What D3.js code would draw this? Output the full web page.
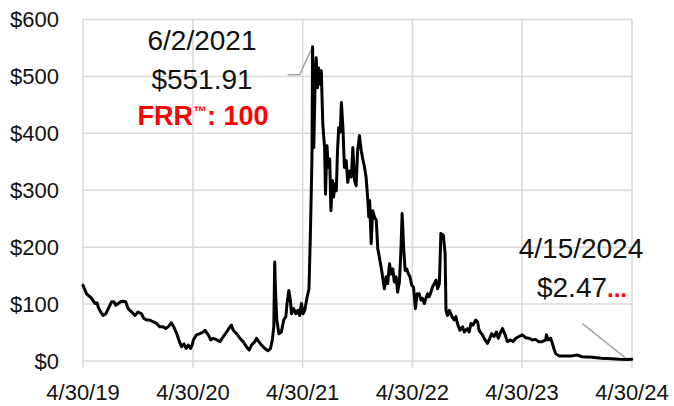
<!DOCTYPE html>
<html><head><meta charset="utf-8">
<script src="https://cdn.jsdelivr.net/npm/d3@7"></script>
<style>
html,body{margin:0;padding:0;background:#fff;}
svg{display:block;font-family:"Liberation Sans",Arial,sans-serif;}
</style></head>
<body><svg id="chart" width="674" height="406"></svg>
<script>
const dates = [
"2019-04-30","2019-05-12","2019-05-29","2019-06-09","2019-06-16","2019-06-20","2019-06-28","2019-07-06","2019-07-15","2019-07-23",
"2019-08-03","2019-08-11","2019-08-17","2019-08-25","2019-09-02","2019-09-11","2019-09-19","2019-09-27","2019-10-09","2019-10-20",
"2019-10-30","2019-11-11","2019-11-18","2019-11-27","2019-12-08","2019-12-19","2019-12-31","2020-01-10","2020-01-21","2020-01-30",
"2020-02-07","2020-02-18","2020-02-26","2020-03-07","2020-03-16","2020-03-23","2020-03-31","2020-04-07","2020-04-14","2020-04-22",
"2020-04-29","2020-05-01","2020-05-12","2020-05-23","2020-06-03","2020-06-09","2020-06-20","2020-06-28","2020-07-06","2020-07-18",
"2020-07-29","2020-08-09","2020-08-20","2020-08-31","2020-09-05","2020-09-11","2020-09-22","2020-10-03","2020-10-14","2020-10-25",
"2020-11-03","2020-11-11","2020-11-22","2020-11-27","2020-12-05","2020-12-14","2020-12-25","2021-01-05","2021-01-13","2021-01-19",
"2021-01-24","2021-01-27","2021-01-30","2021-02-03","2021-02-10","2021-02-18","2021-02-26","2021-03-05","2021-03-09","2021-03-15",
"2021-03-20","2021-03-24","2021-03-31","2021-04-07","2021-04-14","2021-04-20","2021-04-26","2021-05-01","2021-05-07","2021-05-14",
"2021-05-21","2021-05-26","2021-05-31","2021-06-02","2021-06-06","2021-06-11","2021-06-14","2021-06-18","2021-06-22","2021-06-28",
"2021-07-01","2021-07-06","2021-07-12","2021-07-15","2021-07-20","2021-07-24","2021-07-29","2021-08-02","2021-08-07","2021-08-11",
"2021-08-15","2021-08-20","2021-08-24","2021-08-28","2021-09-02","2021-09-06","2021-09-11","2021-09-16","2021-09-22","2021-09-27",
"2021-10-03","2021-10-09","2021-10-14","2021-10-20","2021-10-25","2021-10-30","2021-11-05","2021-11-11","2021-11-16","2021-11-22",
"2021-11-27","2021-12-03","2021-12-06","2021-12-09","2021-12-14","2021-12-19","2021-12-25","2021-12-31","2022-01-05","2022-01-10",
"2022-01-16","2022-01-21","2022-01-27","2022-02-02","2022-02-07","2022-02-13","2022-02-18","2022-02-24","2022-03-01","2022-03-07",
"2022-03-12","2022-03-18","2022-03-23","2022-03-27","2022-04-01","2022-04-06","2022-04-11","2022-04-17","2022-04-22","2022-04-28",
"2022-05-04","2022-05-10","2022-05-16","2022-05-23","2022-05-29","2022-06-03","2022-06-09","2022-06-14","2022-06-20","2022-06-25",
"2022-07-01","2022-07-06","2022-07-12","2022-07-18","2022-07-23","2022-07-29","2022-08-03","2022-08-11","2022-08-17","2022-08-20",
"2022-08-25","2022-08-31","2022-09-09","2022-09-16","2022-09-22","2022-09-27","2022-10-05","2022-10-14","2022-10-20","2022-10-30",
"2022-11-05","2022-11-11","2022-11-18","2022-11-27","2022-12-03","2022-12-08","2022-12-19","2022-12-28","2023-01-05","2023-01-13",
"2023-01-19","2023-01-27","2023-02-04","2023-02-10","2023-02-18","2023-02-24","2023-03-05","2023-03-12","2023-03-23","2023-03-31",
"2023-04-09","2023-04-20","2023-05-01","2023-05-12","2023-05-23","2023-06-03","2023-06-14","2023-06-25","2023-07-06","2023-07-18",
"2023-07-20","2023-07-26","2023-08-03","2023-08-09","2023-08-14","2023-08-20","2023-08-31","2023-09-11","2023-09-27","2023-10-14",
"2023-10-30","2023-11-16","2023-12-19","2024-01-21","2024-02-24","2024-03-18","2024-04-15","2024-04-29"
];
const prices = [
133,118,110,101,102,94,86,80,83,92,
104,104,98,101,104,105,104,92,86,80,
86,83,75,72,72,69,66,60,60,57,
60,67,60,48,34,25,30,22,28,22,
31,37,46,48,51,54,46,37,40,37,
34,43,51,60,63,54,48,40,34,25,
19,28,34,40,34,28,22,18,22,37,
60,174,118,72,48,51,72,78,101,124,
107,83,92,83,89,80,101,83,89,110,
127,229,358,551.91,375,504,533,480,515,486,
510,416,375,293,378,340,355,264,317,288,
311,299,370,410,402,454,410,340,352,314,
334,323,375,317,308,370,396,370,355,340,
323,282,253,282,206,264,253,247,197,183,
165,148,127,148,136,171,153,162,139,148,
121,139,194,259,200,159,162,153,148,133,
130,92,118,118,107,110,101,110,118,113,
121,130,136,142,127,136,224,221,189,89,
80,89,78,72,78,66,54,60,51,57,
51,66,63,72,69,54,46,37,31,40,
48,43,51,40,51,57,46,34,37,34,
40,43,46,41,40,37,38,34,34,37,
46,37,40,31,22,13,9,9,9,9,
10.5,7.5,6.5,4.7,4,3,2.47,3.0
];
const yTicks = [0,100,200,300,400,500,600];
const yTickLabels = ["$0","$100","$200","$300","$400","$500","$600"];
const xTickDates = ["2019-04-30","2020-04-30","2021-04-30","2022-04-30","2023-04-30","2024-04-30"];
const xTickLabels = ["4/30/19","4/30/20","4/30/21","4/30/22","4/30/23","4/30/24"];
const peakAnno = {date:"2021-06-02", value:551.91, lines:["6/2/2021","$551.91"], frr:"FRR", tm:"™", frrVal:": 100"};
const lastAnno = {date:"2024-04-15", value:2.47, lines:["4/15/2024","$2.47"], dots:"..."};

const parse = d3.timeParse("%Y-%m-%d");
const data = dates.map((d,i)=>({date:parse(d), value:prices[i]}));

const svg = d3.select("#chart");
const m = {left:83, right:42, top:19.5, bottom:45};
const W = 674, H = 406;
const x = d3.scaleTime().domain([parse(xTickDates[0]), parse(xTickDates[xTickDates.length-1])]).range([m.left, W-m.right]);
const y = d3.scaleLinear().domain([0,600]).range([H-m.bottom, m.top]);

const grid = svg.append("g");
grid.selectAll("line.h").data(yTicks).join("line")
  .attr("x1", m.left).attr("x2", W-m.right)
  .attr("y1", d=>y(d)).attr("y2", d=>y(d))
  .attr("stroke","#d9d9d9").attr("stroke-width",1.5);
grid.selectAll("line.v").data(xTickDates).join("line")
  .attr("x1", d=>x(parse(d))).attr("x2", d=>x(parse(d)))
  .attr("y1", m.top).attr("y2", H-m.bottom+7)
  .attr("stroke","#d9d9d9").attr("stroke-width",1.5);

svg.append("g").selectAll("text").data(yTicks).join("text")
  .attr("x", 59).attr("y", d=>y(d)).attr("dy","0.36em")
  .attr("text-anchor","end").attr("font-size",22).attr("fill","#111")
  .text((d,i)=>yTickLabels[i]);
svg.append("g").selectAll("text").data(xTickDates).join("text")
  .attr("x", d=>x(parse(d))).attr("y", 400)
  .attr("text-anchor","middle").attr("font-size",22).attr("fill","#111")
  .text((d,i)=>xTickLabels[i]);

// leader lines
const px = x(parse(peakAnno.date)), py = y(peakAnno.value);
svg.append("polyline")
  .attr("points", `${px-25},${py+28} ${px-13},${py+28} ${px},${py}`)
  .attr("fill","none").attr("stroke","#a6a6a6").attr("stroke-width",1.5);
const lx = x(parse(lastAnno.date)), ly = y(lastAnno.value);
svg.append("line")
  .attr("x1", lx-45).attr("y1", ly-36).attr("x2", lx).attr("y2", ly)
  .attr("stroke","#a6a6a6").attr("stroke-width",1.5);

const line = d3.line().x(d=>x(d.date)).y(d=>y(d.value));
svg.append("path").datum(data).attr("d", line)
  .attr("fill","none").attr("stroke","#000").attr("stroke-width",3)
  .attr("stroke-linejoin","round").attr("stroke-linecap","round");

// annotations
const a1 = svg.append("g").attr("text-anchor","middle").attr("fill","#111");
a1.append("text").attr("x",202).attr("y",50).attr("font-size",28).text(peakAnno.lines[0]);
a1.append("text").attr("x",202).attr("y",89).attr("font-size",28).text(peakAnno.lines[1]);
const frr = a1.append("text").attr("x",203).attr("y",125).attr("font-size",27)
  .attr("font-weight","bold").attr("fill","#ff0000");
frr.append("tspan").text(peakAnno.frr);
frr.append("tspan").attr("font-size",14).attr("dy",-9).text(peakAnno.tm);
frr.append("tspan").attr("dy",9).text(peakAnno.frrVal);

const a2 = svg.append("g").attr("text-anchor","middle").attr("fill","#111");
a2.append("text").attr("x",581).attr("y",258).attr("font-size",28).text(lastAnno.lines[0]);
const t2 = a2.append("text").attr("x",582).attr("y",297).attr("font-size",28);
t2.append("tspan").text(lastAnno.lines[1]);
t2.append("tspan").attr("fill","#ff0000").attr("font-weight","bold").attr("font-size",24).text(lastAnno.dots);
</script>
</body></html>
